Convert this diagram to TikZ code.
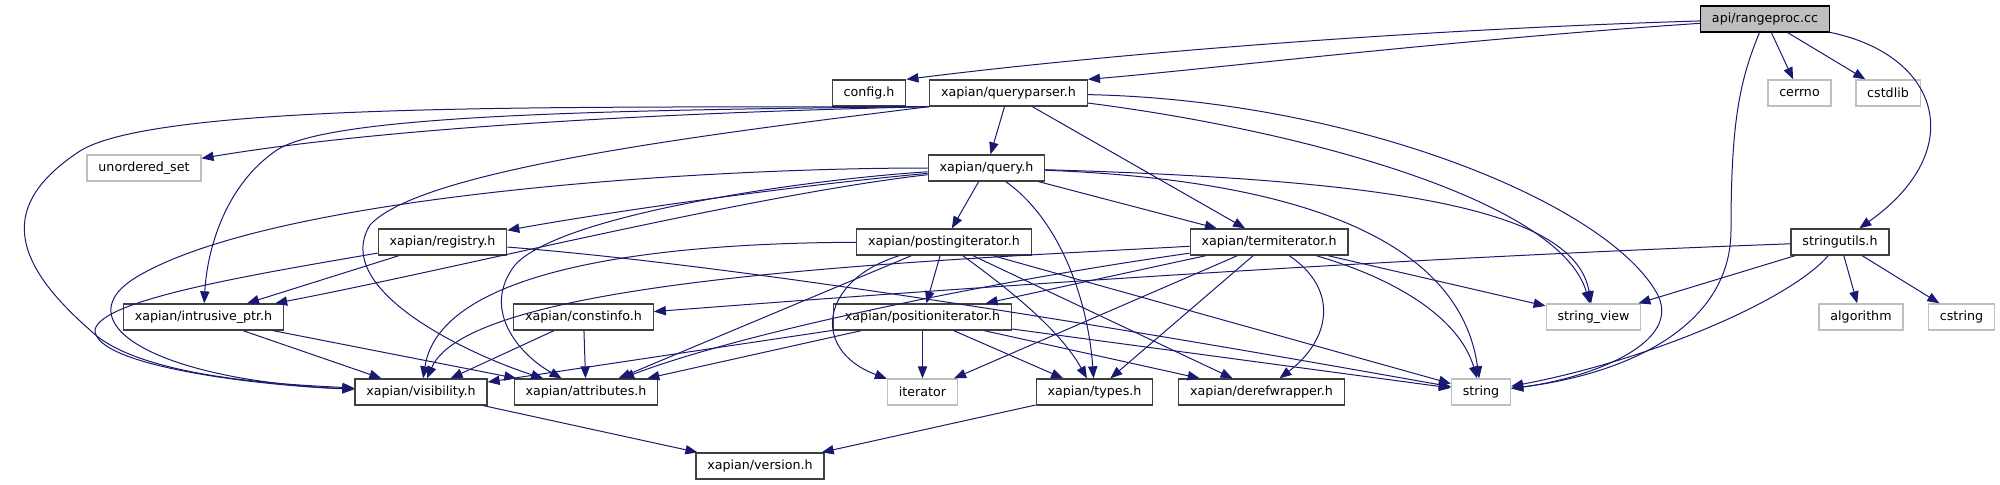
\documentclass[tikz,border=0pt]{standalone}
\usepackage{fontspec}
\setmainfont{DejaVu Sans}
\usetikzlibrary{arrows.meta}
\definecolor{edgeblue}{HTML}{191970}
\definecolor{extgray}{HTML}{BFBFBF}
\definecolor{boxgray}{HTML}{404040}

\begin{document}
\begin{tikzpicture}[x=0.75pt,y=-0.75pt,
  box/.style={draw=boxgray,line width=1pt,fill=white,inner xsep=8.5pt,inner ysep=0pt,minimum height=19.5pt,font=\fontsize{9.5}{11}\selectfont},
  ext/.style={box,draw=extgray},
  dep/.style={-{Triangle[length=9pt,width=7pt]},edgeblue,line width=0.75pt}
]
\useasboundingbox (0,0) rectangle (2000,485);
% files
\node[box,fill=extgray,draw=black] (rangeproc) at (1765,19) {api/rangeproc.cc};
\node[box] (config) at (869,93) {config.h};
\node[box] (qparser) at (1008.5,93) {xapian/queryparser.h};
\node[ext] (cerrno) at (1799.5,93) {cerrno};
\node[ext] (cstdlib) at (1888,93) {cstdlib};
\node[ext] (uset) at (144,168) {unordered\_set};
\node[box] (query) at (986.5,168) {xapian/query.h};
\node[box] (registry) at (442.5,242) {xapian/registry.h};
\node[box] (posting) at (944,242) {xapian/postingiterator.h};
\node[box] (termit) at (1269,242) {xapian/termiterator.h};
\node[box] (strutils) at (1840,242) {stringutils.h};
\node[box] (intrusive) at (203.5,317) {xapian/intrusive\_ptr.h};
\node[box] (constinfo) at (583.5,317) {xapian/constinfo.h};
\node[box] (position) at (922.5,317) {xapian/positioniterator.h};
\node[ext] (strview) at (1593.5,317) {string\_view};
\node[ext] (algorithm) at (1861,317) {algorithm};
\node[ext] (cstring) at (1961.5,317) {cstring};
\node[box] (visibility) at (421,392) {xapian/visibility.h};
\node[box] (attributes) at (586,392) {xapian/attributes.h};
\node[ext] (iterator) at (922.5,392) {iterator};
\node[box] (types) at (1094.5,392) {xapian/types.h};
\node[box] (deref) at (1261.5,392) {xapian/derefwrapper.h};
\node[ext] (string) at (1481,392) {string};
\node[box] (version) at (760,466) {xapian/version.h};

% api/rangeproc.cc
\draw[dep] (rangeproc) .. controls (1400,30) and (1100,55) .. (config.north east);
\draw[dep] (rangeproc) .. controls (1450,40) and (1200,70) .. (qparser.north east);
\draw[dep] (rangeproc) -- (cerrno);
\draw[dep] (rangeproc) -- (cstdlib);
\draw[dep] (rangeproc) .. controls (1940,55) and (1970,150) .. (strutils);
\draw[dep] (rangeproc) .. controls (1740,80) and (1731,120) .. (1731,230) .. controls (1731,330) and (1620,375) .. (string);
% queryparser.h
\draw[dep] (qparser) -- (query);
\draw[dep] (qparser) -- (termit);
\draw[dep] (qparser) .. controls (1350,100) and (1600,200) .. (1655,290) .. controls (1690,345) and (1580,380) .. (string);
\draw[dep] (qparser) .. controls (1300,130) and (1560,200) .. (strview);
\draw[dep] (qparser.south west) .. controls (600,108) and (150,100) .. (77,153) .. controls (0,205) and (10,260) .. (90,330) .. controls (140,380) and (300,385) .. (visibility);
\draw[dep] (qparser.south west) .. controls (700,112) and (400,125) .. (uset);
\draw[dep] (qparser.south west) .. controls (600,110) and (330,115) .. (277,150) .. controls (225,185) and (207,250) .. (intrusive);
\draw[dep] (qparser.south west) .. controls (700,135) and (420,170) .. (370,225) .. controls (330,290) and (470,355) .. (attributes);
% query.h
\draw[dep] (query) -- (posting);
\draw[dep] (query) -- (termit);
\draw[dep] (query) .. controls (1060,220) and (1088,300) .. (types);
\draw[dep] (query) .. controls (800,185) and (620,210) .. (registry);
\draw[dep] (query) .. controls (750,195) and (450,270) .. (intrusive);
\draw[dep] (query) .. controls (700,168) and (280,195) .. (140,275) .. controls (60,320) and (150,380) .. (visibility);
\draw[dep] (query) .. controls (800,180) and (560,215) .. (515,265) .. controls (480,310) and (520,355) .. (attributes);
\draw[dep] (query) .. controls (1400,180) and (1575,210) .. (strview);
\draw[dep] (query) .. controls (1300,180) and (1460,240) .. (string);
% registry.h
\draw[dep] (registry) -- (intrusive);
\draw[dep] (registry) .. controls (250,275) and (100,300) .. (95,330) .. controls (95,365) and (250,385) .. (visibility);
\draw[dep] (registry) .. controls (800,270) and (1300,360) .. (string);
% intrusive_ptr.h, constinfo.h
\draw[dep] (intrusive) -- (visibility);
\draw[dep] (intrusive) -- (attributes);
\draw[dep] (constinfo) -- (visibility);
\draw[dep] (constinfo) -- (attributes);
% postingiterator.h
\draw[dep] (posting) -- (position);
\draw[dep] (posting) .. controls (820,280) and (810,350) .. (iterator);
\draw[dep] (posting) .. controls (1010,290) and (1060,330) .. (types);
\draw[dep] (posting) -- (deref);
\draw[dep] (posting) -- (string);
\draw[dep] (posting) -- (attributes);
\draw[dep] (posting) .. controls (650,243) and (440,270) .. (visibility);
% termiterator.h
\draw[dep] (termit) -- (position);
\draw[dep] (termit) -- (iterator);
\draw[dep] (termit) -- (types);
\draw[dep] (termit) .. controls (1340,290) and (1330,340) .. (deref);
\draw[dep] (termit) .. controls (1000,280) and (750,330) .. (attributes);
\draw[dep] (termit) .. controls (900,262) and (470,280) .. (visibility);
\draw[dep] (termit) -- (strview);
\draw[dep] (termit) .. controls (1400,280) and (1460,320) .. (string);
% positioniterator.h
\draw[dep] (position) -- (iterator);
\draw[dep] (position) -- (types);
\draw[dep] (position) -- (deref);
\draw[dep] (position) -- (string);
\draw[dep] (position) -- (visibility);
\draw[dep] (position) -- (attributes);
% stringutils.h
\draw[dep] (strutils) .. controls (1400,258) and (1000,285) .. (constinfo);
\draw[dep] (strutils) -- (strview);
\draw[dep] (strutils) -- (algorithm);
\draw[dep] (strutils) -- (cstring);
\draw[dep] (strutils) .. controls (1790,300) and (1650,360) .. (string);
% version.h
\draw[dep] (types) -- (version);
\draw[dep] (visibility) -- (version);
\end{tikzpicture}
\end{document}
